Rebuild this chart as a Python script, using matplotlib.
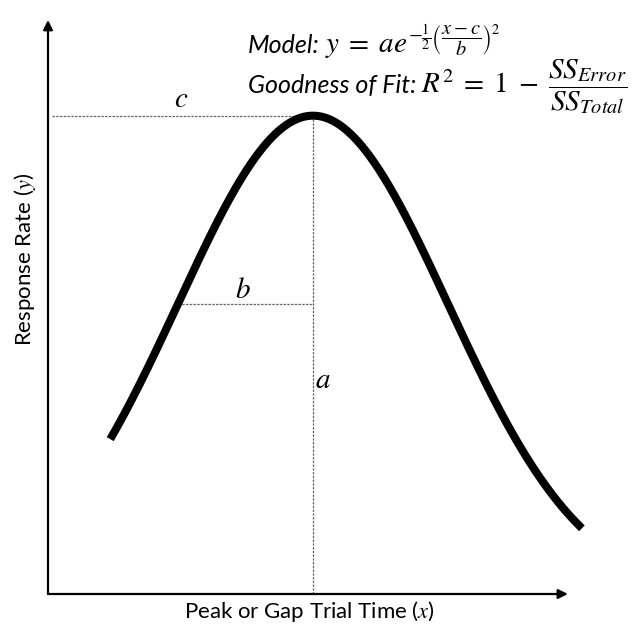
import numpy as np
import matplotlib.pyplot as plt

# Gaussian model parameters (x in time units, y in rate units)
a = 1.0       # peak height
b = 2.69      # width (sigma)
c = 5.28      # peak time
x_start, x_end = 1.24, 10.64   # extent of the drawn curve
x_axis_end = 10.36             # tip of the x-axis arrow
y_axis_end = 1.2               # tip of the y-axis arrow

xlabel = r"Peak or Gap Trial Time ($x$)"
ylabel = r"Response Rate ($y$)"
model_word = "Model:"
model_math = r"$y\;=\;ae^{-\frac{1}{2}\left(\dfrac{x-c}{b}\right)^2}$"
fit_word = "Goodness of Fit:"
fit_math = r"$R^2\;=\;1\;-\;\dfrac{SS_{Error}}{SS_{Total}}$"

plt.rcParams['font.family'] = ['Lato', 'DejaVu Sans']
plt.rcParams['mathtext.fontset'] = 'stix'

W, H = 638, 627
fig = plt.figure(figsize=(W / 100, H / 100), dpi=100)
ax = fig.add_axes([48 / W, 33 / H, 552 / W, 574 / H])
ax.set_xlim(0, 11)
ax.set_ylim(0, 1.2)
ax.axis('off')

# the model curve
x = np.linspace(x_start, x_end, 400)
y = a * np.exp(-0.5 * ((x - c) / b) ** 2)
ax.plot(x, y, color='black', lw=5.8, solid_capstyle='butt', zorder=3)

# axes with arrow heads
arrow = dict(arrowstyle='-|>', lw=1.6, color='black', mutation_scale=14,
             shrinkA=0, shrinkB=0)
ax.annotate('', xy=(x_axis_end, 0), xytext=(0, 0), arrowprops=arrow)
ax.annotate('', xy=(0, y_axis_end), xytext=(0, 0), arrowprops=arrow)

# guide lines
guide = dict(color='#666666', lw=0.9, ls=(0, (2, 1)), zorder=2)
ax.plot([0.08, c], [a, a], **guide)
ax.plot([c, c], [0, a], **guide)
yb = a * np.exp(-0.5)
ax.plot([c - b, c], [yb, yb], **guide)

# parameter letters
ax.text(2.66, 1.035, r"$c$", fontsize=21, ha='center', va='center')
ax.text(3.88, 0.636, r"$b$", fontsize=21, ha='center', va='center')
ax.text(5.48, 0.448, r"$a$", fontsize=21, ha='center', va='center')

# axis labels
fig.text(309 / W, 1 - 612 / H, xlabel, fontsize=16, ha='center', va='center')
fig.text(25 / W, 1 - 259 / H, ylabel, fontsize=16, ha='center', va='center',
         rotation=90)

# equations: italic sans word followed by the math part
renderer = fig.canvas.get_renderer()
for word, math, base in [(model_word, model_math, 53), (fit_word, fit_math, 93)]:
    t = fig.text(248 / W, 1 - base / H, word, fontsize=18, style='italic',
                 ha='left', va='baseline')
    x1 = t.get_window_extent(renderer).x1
    fig.text((x1 + 5) / W, 1 - base / H, math, fontsize=21,
             ha='left', va='baseline')

fig.savefig('out.png', dpi=100)
